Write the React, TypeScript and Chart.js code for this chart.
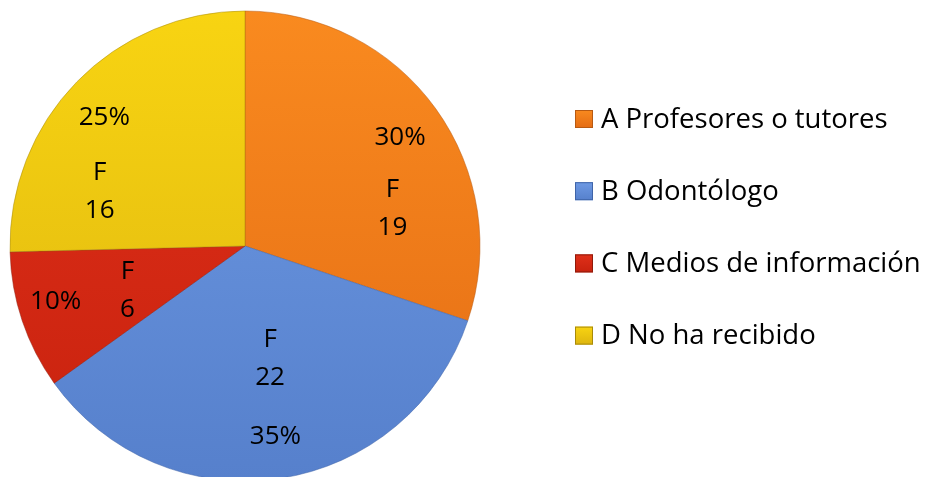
import React, { useEffect, useRef } from "react";
import { Chart, registerables } from "chart.js";

Chart.register(...registerables);

const categories = [
  "A Profesores o tutores",
  "B Odontólogo",
  "C Medios de información",
  "D No ha recibido",
];
const frequencies = [19, 22, 6, 16];
const frequencyPrefix = "F";

const colorsLight = ["#F98A1F", "#6E9AE4", "#E0301A", "#F8D412"];
const colorsDark = ["#E46C14", "#5680CC", "#C8220E", "#DDB50F"];
const edgeColors = ["#B85A12", "#3F64A8", "#901A0A", "#A88A0A"];

// label placement inside each slice: [fraction of slice angle, fraction of radius]
const pctPlacement = [
  [0.506, 0.806],
  [0.496, 0.82],
  [0.563, 0.84],
  [0.479, 0.81],
];
const freqPlacement = [
  [0.699, 0.647],
  [0.468, 0.49],
  [0.43, 0.536],
  [0.24, 0.66],
];

const FONT = '"Open Sans", "Noto Sans", sans-serif';
const LABEL_SIZE = 26;
const LEGEND_SIZE = 27.5;

const labelsPlugin = {
  id: "sliceLabels",
  afterDatasetsDraw(chart: any) {
    const ctx = chart.ctx;
    const meta = chart.getDatasetMeta(0);
    const data: number[] = chart.data.datasets[0].data;
    const total = data.reduce((a, b) => a + b, 0);
    ctx.save();
    ctx.fillStyle = "#000";
    ctx.font = `${LABEL_SIZE}px ${FONT}`;
    ctx.textAlign = "center";
    ctx.textBaseline = "middle";
    meta.data.forEach((arc: any, i: number) => {
      const { x, y, startAngle, endAngle, outerRadius } = arc.getProps(
        ["x", "y", "startAngle", "endAngle", "outerRadius"],
        true
      );
      const span = endAngle - startAngle;
      const pct = Math.round((data[i] / total) * 100) + "%";
      const [pa, pr] = pctPlacement[i];
      const a1 = startAngle + span * pa;
      ctx.fillText(pct, x + Math.cos(a1) * outerRadius * pr, y + Math.sin(a1) * outerRadius * pr);
      const [fa, fr] = freqPlacement[i];
      const a2 = startAngle + span * fa;
      const cx = x + Math.cos(a2) * outerRadius * fr;
      const cy = y + Math.sin(a2) * outerRadius * fr;
      const gap = 38;
      ctx.fillText(frequencyPrefix, cx, cy - gap / 2);
      ctx.fillText(String(data[i]), cx, cy + gap / 2);
    });
    ctx.restore();
  },
};

const legendPlugin = {
  id: "sideLegend",
  afterDraw(chart: any) {
    const ctx = chart.ctx;
    const labels: string[] = chart.data.labels;
    const boxX = 575;
    const box = 18;
    const textX = 601;
    const firstY = 119;
    const step = 72.2;
    ctx.save();
    ctx.font = `${LEGEND_SIZE}px ${FONT}`;
    ctx.textAlign = "left";
    ctx.textBaseline = "middle";
    labels.forEach((lab, i) => {
      const cy = firstY + i * step;
      const top = cy - box / 2;
      const g = ctx.createLinearGradient(0, top, 0, top + box);
      g.addColorStop(0, colorsLight[i]);
      g.addColorStop(1, colorsDark[i]);
      ctx.fillStyle = g;
      ctx.fillRect(boxX, top, box, box);
      ctx.strokeStyle = edgeColors[i];
      ctx.lineWidth = 1;
      ctx.strokeRect(boxX + 0.5, top + 0.5, box - 1, box - 1);
      ctx.fillStyle = "#000";
      ctx.fillText(lab, textX, cy + 1);
    });
    ctx.restore();
  },
};

export default function App() {
  const ref = useRef<HTMLCanvasElement | null>(null);

  useEffect(() => {
    if (!ref.current) return;
    const chart = new Chart(ref.current, {
      type: "pie",
      data: {
        labels: categories,
        datasets: [
          {
            data: frequencies,
            backgroundColor: (c: any) => {
              const i = c.dataIndex;
              const area = c.chart.chartArea;
              if (!area) return colorsLight[i];
              const g = c.chart.ctx.createLinearGradient(0, area.top, 0, area.bottom);
              g.addColorStop(0, colorsLight[i]);
              g.addColorStop(1, colorsDark[i]);
              return g;
            },
            borderColor: edgeColors.map((c) => c + "80"),
            borderWidth: 1,
          },
        ],
      },
      options: {
        responsive: false,
        animation: false,
        radius: 235,
        layout: { padding: { left: 10, top: 11, right: 453, bottom: 19 } },
        plugins: {
          legend: { display: false },
          tooltip: { enabled: false },
        },
      } as any,
      plugins: [labelsPlugin, legendPlugin],
    });
    return () => chart.destroy();
  }, []);

  return (
    <div
      style={{
        position: "fixed",
        left: 0,
        top: 0,
        width: 933,
        height: 477,
        overflow: "hidden",
        background: "#fff",
      }}
    >
      <canvas ref={ref} width={933} height={500} style={{ display: "block" }} />
    </div>
  );
}
